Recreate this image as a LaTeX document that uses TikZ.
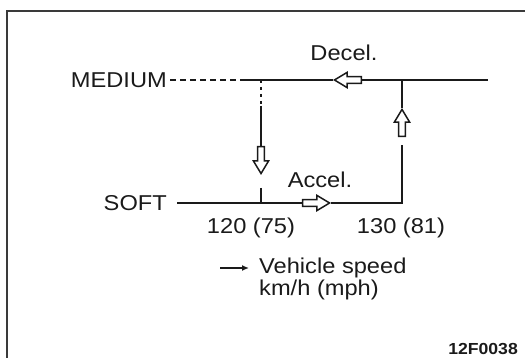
\documentclass[tikz,border=0pt]{standalone}
\usepackage{fontspec}
\setmainfont{Liberation Sans}[FakeStretch=1.1]
\usetikzlibrary{shapes.arrows,arrows.meta}
\definecolor{SPInk}{HTML}{1A1A1A}
\definecolor{SPFrame}{HTML}{3A3A3A}

\tikzset{
  spline/.style={SPInk,line width=2.1pt},
  splabel/.style={SPInk,inner sep=0pt,font=\fontsize{21.5}{22}\selectfont},
  spopen/.style={single arrow,draw=SPInk,fill=white,line width=1.5pt,inner sep=2.6pt,
    minimum height=27pt,single arrow head extend=4.2pt,single arrow tip angle=62,anchor=tip},
}

\begin{document}
\begin{tikzpicture}[x=1pt,y=1pt]
\path[use as bounding box] (0,0) rectangle (525,358);
\draw[SPFrame,line width=2.4pt] (525,347) -- (7,347) -- (7,-2);

\node[splabel,anchor=east] (medium) at (167,278) {MEDIUM};
\node[splabel,anchor=east] (soft) at (167,155) {SOFT};
\node[splabel] (decel) at (344,305) {Decel.};
\node[splabel] (accel) at (320,178) {Accel.};
\node[splabel] (v120) at (251,130) {120 (75)};
\node[splabel] (v130) at (401,130) {130 (81)};
\node[splabel,anchor=west,align=left] (speed) at (259,79) {Vehicle speed\\km/h (mph)};
\node[SPInk,inner sep=0pt,anchor=base east,font=\bfseries\fontsize{16}{16}\selectfont] (code) at (518,3) {12F0038};

\coordinate (mDashL) at (170,278);
\coordinate (mL) at (243,278);
\coordinate (mR) at (488,278);
\coordinate (jA) at (261,278);
\coordinate (jB) at (402,278);
\coordinate (kA) at (261,252);
\coordinate (sL) at (177,155);
\coordinate (sA) at (261,155);
\coordinate (sAtop) at (261,170);
\coordinate (sB) at (402,155);
\coordinate (sBtop) at (402,213);
\coordinate (spdTail) at (220,90);
\coordinate (spdTip) at (249,90);

\node[spopen,shape border rotate=180] (decelArr) at (333,278) {};
\node[spopen] (accelArr) at (331,155) {};
\node[spopen,shape border rotate=270] (downArr) at (261,183) {};
\node[spopen,shape border rotate=90] (upArr) at (402,250) {};

\draw[spline,dash pattern=on 6pt off 4pt] (mDashL) -- (mL);
\draw[spline] (mL) -- (decelArr.tip);
\draw[spline] (decelArr.tail) -- (mR);
\draw[spline,dash pattern=on 3pt off 4pt] (jA) -- (kA);
\draw[spline] (kA) -- (downArr.tail);
\draw[spline] (sAtop) -- (sA);
\draw[spline] (sL) -- (accelArr.tail);
\draw[spline] (accelArr.tip) -- (sB) -- (sBtop);
\draw[spline] (upArr.tip) -- (jB);
\draw[SPInk,line width=1.5pt,-{Latex[length=7pt,width=6pt]}] (spdTail) -- (spdTip);
\end{tikzpicture}
\end{document}
